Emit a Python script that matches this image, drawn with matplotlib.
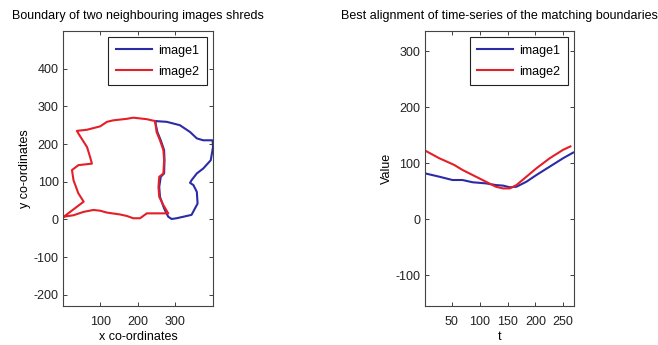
import matplotlib
matplotlib.use("Agg")
import matplotlib.pyplot as plt

plt.rcParams["font.family"] = ["Liberation Sans", "DejaVu Sans"]
plt.rcParams["axes.unicode_minus"] = False

# --- Boundary of image1 (blue) ---
img1_x = [246, 277, 312, 339, 357, 374, 399, 400, 394, 374, 357, 343, 339, 348,
          357, 359, 352, 343, 321, 303, 290, 281, 270, 259, 257, 261, 270, 271,
          270, 261, 252, 246]
img1_y = [261, 259, 250, 232, 215, 210, 210, 192, 157, 135, 122, 104, 97, 91,
          73, 42, 29, 12, 7, 3, 1, 7, 29, 60, 86, 113, 122, 157,
          184, 210, 232, 261]

# --- Boundary of image2 (red) ---
img2_x = [3, 56, 42, 29, 25, 42, 78, 73, 65, 42, 38, 65, 100, 118, 135, 171,
          188, 224, 246, 250, 259, 268, 270, 268, 257, 255, 257, 268, 281, 242,
          224, 206, 188, 171, 153, 118, 100, 82, 56, 29, 3]
img2_y = [7, 47, 69, 104, 131, 144, 148, 166, 192, 228, 235, 238, 247, 259, 263,
          267, 270, 266, 261, 232, 210, 184, 157, 122, 113, 86, 60, 38, 16, 16,
          16, 3, 3, 9, 13, 18, 23, 25, 20, 11, 7]

# --- Aligned time series ---
t1 = [1, 27, 51, 69, 87, 111, 129, 142, 154, 166, 184, 202, 226, 250, 268]
v1 = [82, 76, 70, 70, 66, 64, 61, 60, 57, 58, 67, 79, 94, 109, 119]
t2 = [1, 27, 54, 69, 87, 111, 129, 142, 154, 166, 184, 202, 226, 250, 263]
v2 = [123, 109, 97, 88, 79, 67, 58, 55, 55, 61, 76, 91, 109, 124, 130]

blue = "#2b2ba6"
red = "#e41f28"
fs = 9


def style(ax):
    ax.tick_params(direction="in", length=3, width=0.6, top=True, right=True,
                   labelsize=fs, colors="#222222")
    ax.tick_params(axis="x", pad=7)
    ax.tick_params(axis="y", pad=3)
    for s in ax.spines.values():
        s.set_color("#444444")
        s.set_linewidth(0.8)


def legend(ax):
    leg = ax.legend(loc="upper right", fontsize=fs, fancybox=False,
                    edgecolor="#222222", framealpha=1, handlelength=2.9,
                    handletextpad=0.5, borderpad=0.6, borderaxespad=0.5,
                    labelspacing=0.7)
    leg.get_frame().set_linewidth(0.8)


fig = plt.figure(figsize=(6.58, 3.45), dpi=100)

ax1 = fig.add_axes([0.0957, 0.113, 0.228, 0.797])
ax1.plot(img1_x, img1_y, color=blue, lw=1.5, label="image1")
ax1.plot(img2_x, img2_y, color=red, lw=1.5, label="image2")
ax1.set_xlim(1, 400)
ax1.set_ylim(-230, 500)
ax1.set_xticks([100, 200, 300])
ax1.set_yticks([-200, -100, 0, 100, 200, 300, 400])
ax1.set_xlabel("x co-ordinates", fontsize=fs, labelpad=2)
ax1.set_ylabel("y co-ordinates", fontsize=fs, labelpad=2)
ax1.set_title("Boundary of two neighbouring images shreds", fontsize=fs, pad=9)
style(ax1)
legend(ax1)

ax2 = fig.add_axes([0.6454, 0.113, 0.2274, 0.797])
ax2.plot(t1, v1, color=blue, lw=1.5, label="image1")
ax2.plot(t2, v2, color=red, lw=1.5, label="image2")
ax2.set_xlim(1, 270)
ax2.set_ylim(-155, 336)
ax2.set_xticks([50, 100, 150, 200, 250])
ax2.set_yticks([-100, 0, 100, 200, 300])
ax2.set_xlabel("t", fontsize=fs, labelpad=2)
ax2.set_ylabel("Value", fontsize=fs, labelpad=2)
ax2.set_title("Best alignment of time-series of the matching boundaries",
              fontsize=fs, pad=9)
style(ax2)
legend(ax2)

fig.savefig("out.png", dpi=100)
